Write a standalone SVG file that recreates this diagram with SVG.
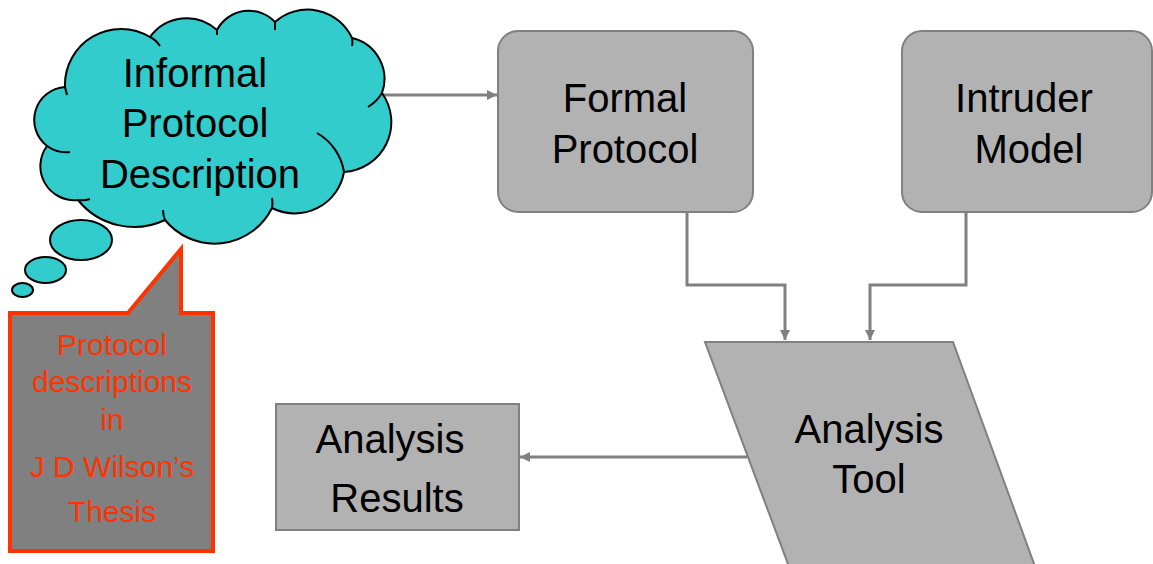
<svg xmlns="http://www.w3.org/2000/svg" width="1153" height="564" viewBox="0 0 1153 564">
<style>
  .lbl { font-family: "Liberation Sans", Arial, sans-serif; font-size: 40px; fill: #000; text-anchor: middle; }
  .note { font-family: "Liberation Sans", Arial, sans-serif; font-size: 30px; fill: #FF3300; text-anchor: middle; }
  .box { fill: #B2B2B2; stroke: #808080; stroke-width: 2; }
  .conn { fill: none; stroke: #808080; stroke-width: 3; }
  .cloud { fill: #33CCCC; stroke: #000; stroke-width: 2; }
  .crease { fill: none; stroke: #000; stroke-width: 2; }
</style>
<defs>
  <marker id="arr" markerUnits="userSpaceOnUse" markerWidth="12" markerHeight="12" refX="10" refY="5" orient="auto">
    <path d="M0,0 L10,5 L0,10 Z" fill="#808080"/>
  </marker>
</defs>

<g id="connectors">
  <line class="conn" x1="383" y1="95" x2="497" y2="95" marker-end="url(#arr)"/>
  <polyline class="conn" points="687,212 687,285 785,285 785,340" marker-end="url(#arr)"/>
  <polyline class="conn" points="966,212 966,285 870,285 870,340" marker-end="url(#arr)"/>
  <line class="conn" x1="747" y1="457" x2="520" y2="457" marker-end="url(#arr)"/>
</g>

<g id="cloud">
  <path class="cloud" d="M65,87 A56,56 0 0 1 150,37 A45,45 0 0 1 217,30 A36,36 0 0 1 275,22 A49,49 0 0 1 352,38 A42,42 0 0 1 382,93 A50,50 0 0 1 344,172 A50,50 0 0 1 272,208 A64,64 0 0 1 165,220 A72,72 0 0 1 78,200 A34,34 0 0 1 47,146 A33,33 0 0 1 65,87 Z"/>
  <path class="crease" d="M47,146 A33,33 0 0 0 70,152"/>
  <path class="crease" d="M65,87 Q66,91 67,95"/>
  <path class="crease" d="M150,37 Q156,40 160,46"/>
  <path class="crease" d="M217,30 L217,35"/>
  <path class="crease" d="M275,22 Q275,26 275,30"/>
  <path class="crease" d="M352,38 Q353,42 352,46"/>
  <path class="crease" d="M382,93 A42,42 0 0 1 368,107"/>
  <path class="crease" d="M317,133 A55,55 0 0 1 344,172"/>
  <path class="crease" d="M272,208 Q273,203 272,198"/>
  <path class="crease" d="M165,220 Q163,215 163,210"/>
  <path class="crease" d="M78,200 Q84,201 90,199"/>
  <ellipse class="cloud" cx="81" cy="240" rx="31" ry="20"/>
  <ellipse class="cloud" cx="45.5" cy="270" rx="20.5" ry="13"/>
  <ellipse class="cloud" cx="22.5" cy="290" rx="10.5" ry="7"/>
  <text class="lbl" x="195" y="87">Informal</text>
  <text class="lbl" x="195" y="137">Protocol</text>
  <text class="lbl" x="200" y="188">Description</text>
</g>

<g id="callout">
  <path d="M10,313 L128,313 L181,249 L181,313 L213,313 L213,551 L10,551 Z" fill="#808080" stroke="#FF3300" stroke-width="4"/>
  <text class="note" x="112" y="355">Protocol</text>
  <text class="note" x="112" y="392">descriptions</text>
  <text class="note" x="112" y="430">in</text>
  <text class="note" x="112" y="477">J D Wilson’s</text>
  <text class="note" x="112" y="522">Thesis</text>
</g>

<g id="formal">
  <rect class="box" x="498" y="31" width="255" height="181" rx="20" ry="20"/>
  <text class="lbl" x="625" y="112">Formal</text>
  <text class="lbl" x="625" y="163">Protocol</text>
</g>

<g id="intruder">
  <rect class="box" x="902" y="31" width="250" height="181" rx="20" ry="20"/>
  <text class="lbl" x="1024" y="112">Intruder</text>
  <text class="lbl" x="1029" y="163">Model</text>
</g>

<g id="tool">
  <polygon class="box" points="705,342 953,342 1040,580 794,580" stroke-width="1.5"/>
  <text class="lbl" x="869" y="443">Analysis</text>
  <text class="lbl" x="869" y="493">Tool</text>
</g>

<g id="results">
  <rect class="box" x="276" y="404" width="243" height="126" stroke-width="3"/>
  <text class="lbl" x="390" y="453">Analysis</text>
  <text class="lbl" x="397" y="512">Results</text>
</g>
</svg>
